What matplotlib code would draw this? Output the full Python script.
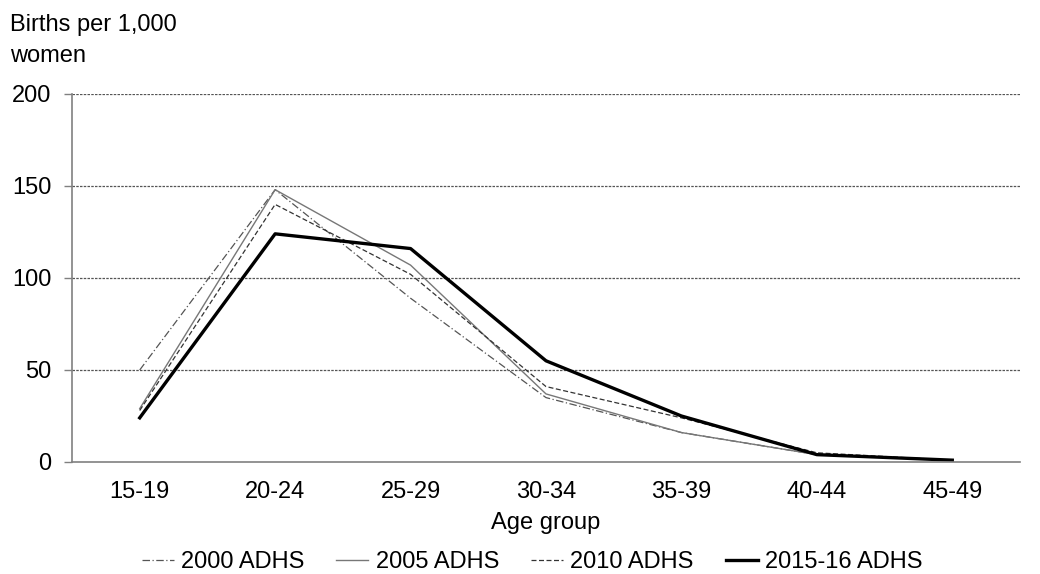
import matplotlib
matplotlib.use("Agg")
import matplotlib.pyplot as plt

plt.rcParams['font.family'] = ['Liberation Sans', 'DejaVu Sans']

age_groups = ["15-19", "20-24", "25-29", "30-34", "35-39", "40-44", "45-49"]
adhs_2000 = [50, 148, 89, 35, 16, 4, 1]
adhs_2005 = [29, 148, 107, 37, 16, 4, 1]
adhs_2010 = [28, 140, 102, 41, 24, 5, 1]
adhs_2015 = [24, 124, 116, 55, 25, 4, 1]
series_labels = ["2000 ADHS", "2005 ADHS", "2010 ADHS", "2015-16 ADHS"]
y_ticks = [0, 50, 100, 150, 200]

FS = 17
fig = plt.figure(figsize=(10.4, 5.74), dpi=100)
ax = fig.add_axes([72/1040, 1 - 462/574, (1020-72)/1040, (462-94)/574])

x = list(range(len(age_groups)))
ax.plot(x, adhs_2000, color='#555555', lw=0.9, linestyle=(0, (6, 2, 1, 2)), label=series_labels[0])
ax.plot(x, adhs_2005, color='#777777', lw=1.0, linestyle='-', label=series_labels[1])
ax.plot(x, adhs_2010, color='#333333', lw=0.9, linestyle=(0, (4, 2)), label=series_labels[2])
ax.plot(x, adhs_2015, color='black', lw=2.4, linestyle='-', label=series_labels[3])

ax.set_xlim(-0.5, len(age_groups) - 0.5)
ax.set_ylim(0, 200)
ax.set_yticks(y_ticks)
ax.set_xticks(x)
ax.set_xticklabels(age_groups)
ax.tick_params(axis='both', labelsize=FS, colors='black')
ax.tick_params(axis='x', length=0, pad=13.5)
ax.tick_params(axis='y', length=6, width=1, color='#808080', pad=9)
for v in y_ticks[1:]:
    ax.axhline(v, color='#555555', lw=0.9, linestyle=(0, (2, 1)), zorder=0)

for s in ['top', 'right']:
    ax.spines[s].set_visible(False)
for s in ['left', 'bottom']:
    ax.spines[s].set_color('#808080')
    ax.spines[s].set_linewidth(1.2)

ax.set_xlabel("Age group", fontsize=FS, labelpad=7)
fig.text(10/1040, 1 - 14/574, "Births per 1,000\nwomen", fontsize=FS, va='top', ha='left', linespacing=1.5)

leg = fig.legend(loc='center', bbox_to_anchor=(532/1040, 1 - 562/574), ncol=4, frameon=False,
                 fontsize=FS, handlelength=1.36, handletextpad=0.3, columnspacing=1.36)

fig.savefig("out.png", dpi=100)
